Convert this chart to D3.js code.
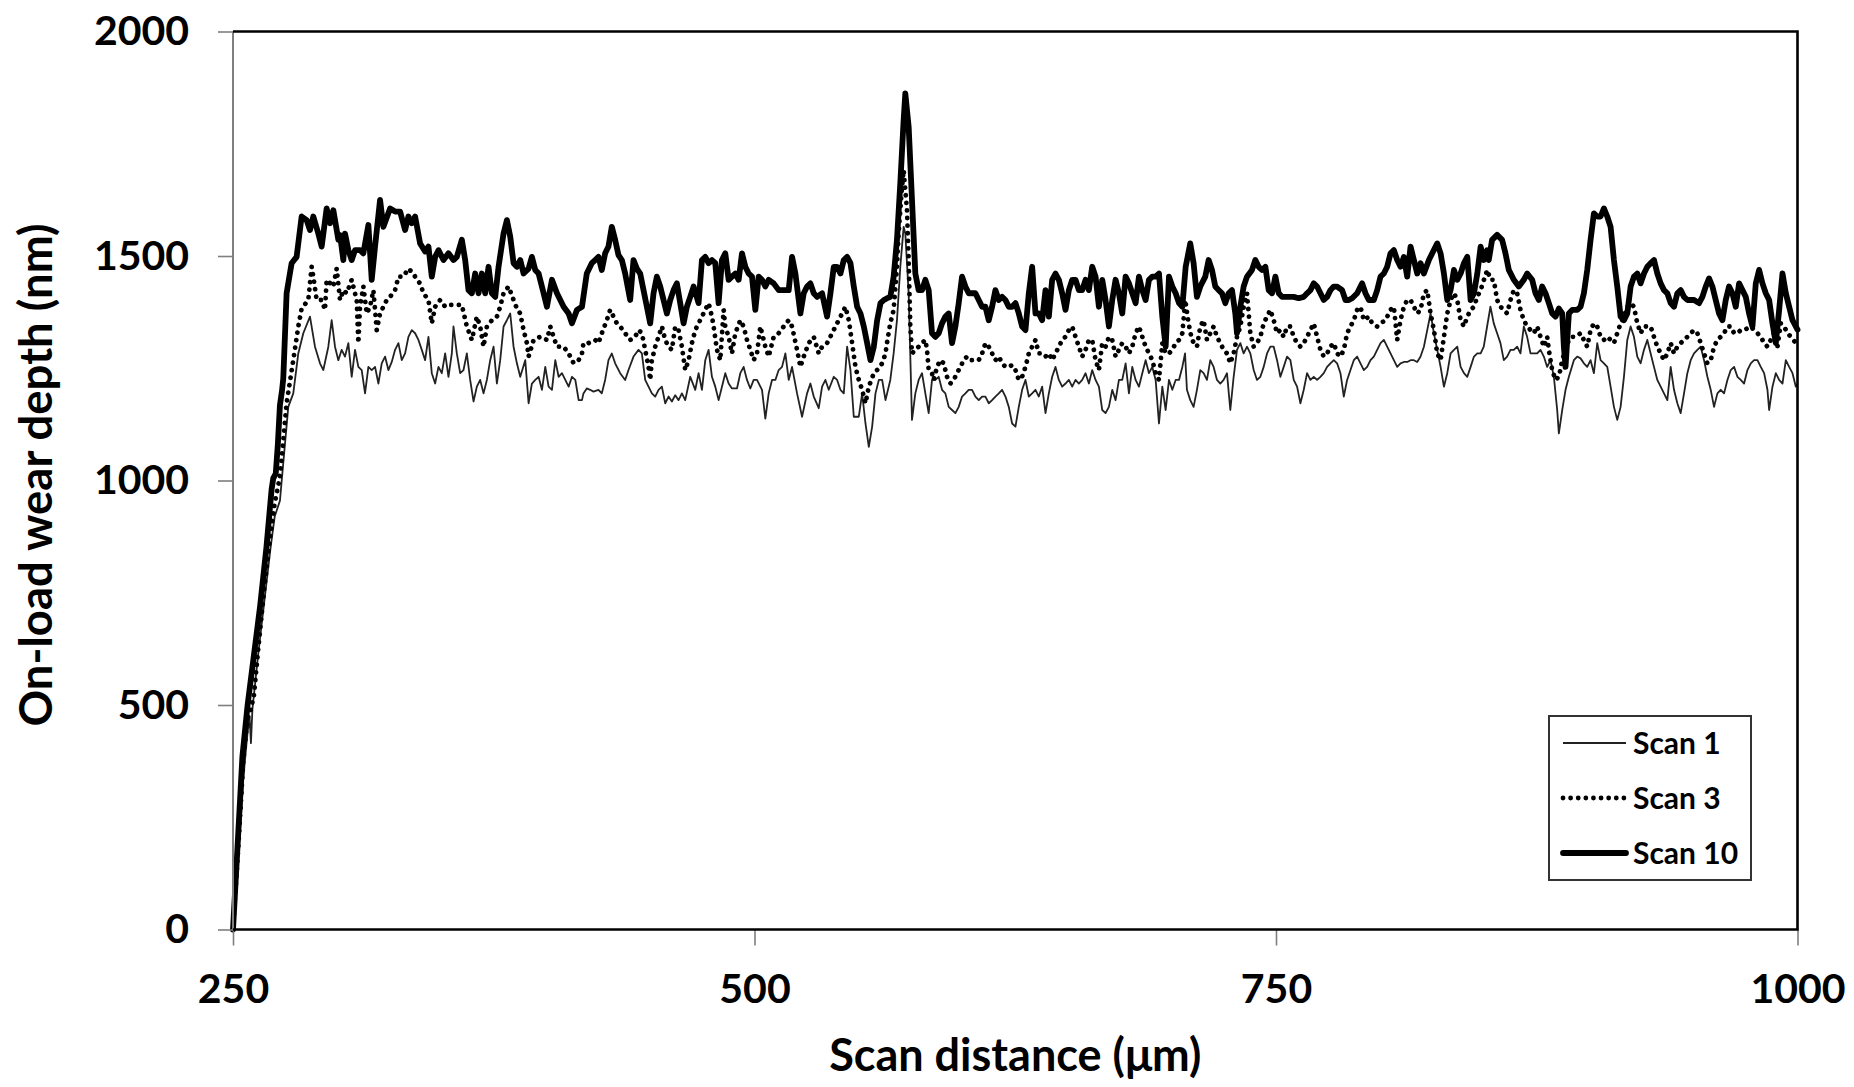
<!DOCTYPE html>
<html>
<head>
<meta charset="utf-8">
<script src="https://cdn.jsdelivr.net/npm/d3@7"></script>
<style>
  html, body { margin: 0; padding: 0; background: #fff; }
  svg { display: block; font-family: Lato, "Open Sans", sans-serif; font-weight: 700; }
</style>
</head>
<body>
<svg id="chart" width="1854" height="1087"></svg>
<script>
// Scan distance (µm) vs on-load wear depth (nm) for three scans
const scan1 = [[250,0],[252.5,160],[255,340],[257,440],[258,470],[258.6,415],[259.3,490],[262,610],[265,730],[268,850],[270,920],[272.5,955],[274.5,1060],[276.5,1164],
[278.9,1194],[281.3,1283],[283.7,1328],[286.9,1365],[289.3,1298],[291.7,1261],[293.3,1246],[295.7,1298],[297.3,1357],[298.9,1298],[300.5,1268],[302.1,1291],[303.7,1276],[305.3,1306],[306.9,1231],[308.5,1291],[310.1,1253],[311.7,1246],[313.3,1194],[314.9,1253],[316.5,1246],[318.1,1253],[319.7,1216],[321.3,1261],[322.9,1276],[324.5,1246],[326.1,1264],[327.7,1291],[329.3,1306],[330.9,1268],[332.5,1283],[334.1,1320],[335.7,1335],[337.3,1328],[338.9,1313],[340.5,1291],[342.1,1268],[343.7,1320],[345.3,1239],[346.9,1216],[348.5,1253],[350.1,1239],[351.7,1283],[353.3,1231],[354.9,1283],[355.7,1343],[357.3,1283],[358.9,1239],[360.5,1246],[362.1,1283],[363.7,1224],[365.3,1176],[366.9,1209],[368.5,1224],[370.1,1194],[371.7,1224],[373.3,1268],[374.9,1298],[376.5,1216],[378.1,1268],[379.7,1343],[381.3,1357],[382.9,1372],[384.5,1298],[386.1,1261],[387.7,1231],[390.1,1268],[391.7,1172],[393.3,1216],[394.9,1224],[396.5,1231],[398.1,1202],[399.7,1253],[401.3,1209],[402.9,1202],[404.5,1268],[406.1,1231],[407.7,1239],[409.3,1224],[410.9,1209],[412.5,1231],[414.1,1224],[415.7,1179],[417.3,1179],
[418.0,1194],[419.6,1205],[421.2,1202],[422.8,1198],[425.2,1202],[426.8,1194],[428.4,1224],[430.0,1268],[431.6,1283],[433.2,1261],[435.6,1239],[438.0,1224],[439.6,1246],[442.0,1276],[444.4,1291],[446.0,1283],[447.6,1224],[449.2,1209],[450.8,1194],[452.4,1187],[454.0,1202],[455.6,1209],[457.2,1172],[458.8,1187],[460.4,1176],[462.0,1190],[463.6,1179],[465.2,1194],[466.8,1179],[469.2,1231],[471.6,1202],[473.2,1239],[474.8,1202],[476.4,1268],[478.0,1291],[479.6,1231],[481.2,1209],[482.8,1179],[484.4,1209],[486.0,1239],[487.6,1216],[489.2,1205],[491.6,1205],[493.2,1239],[494.8,1253],[496.4,1224],[498.0,1205],[499.6,1224],[501.2,1224],[503.6,1202],[505.2,1138],[506.8,1194],[508.4,1224],[510.0,1224],[511.6,1246],[513.2,1253],[514.8,1283],[516.4,1224],[518.0,1253],[520.4,1194],[522.8,1142],[525.2,1194],[526.8,1216],[528.4,1187],[530.8,1161],[532.4,1209],[534.0,1224],[535.6,1202],[538.0,1231],[539.6,1224],[541.2,1202],[542.8,1194],[544.4,1298],[546.0,1246],[547.6,1142],[550.0,1142],[551.6,1194],[553.2,1127],[554.8,1075],[556.4,1120],[558.0,1194],[559.6,1224],[561.2,1224],[562.8,1179],
[565.1,1224],[566.7,1283],[568.3,1357],[569.9,1476],[571.5,1565],[572.3,1550],[573.9,1417],[575.5,1135],[577.1,1194],[578.7,1224],[580.3,1239],[581.9,1194],[583.5,1150],[585.1,1224],[586.7,1224],[588.3,1231],[589.9,1202],[591.5,1194],[593.1,1164],[594.7,1157],[596.3,1150],[597.9,1164],[599.5,1187],[601.1,1194],[602.7,1202],[604.3,1202],[605.9,1187],[607.5,1179],[609.1,1187],[610.7,1187],[612.3,1172],[613.9,1179],[615.5,1187],[617.1,1194],[618.7,1202],[620.3,1187],[621.9,1164],[623.5,1127],[625.1,1120],[626.7,1164],[628.3,1202],[629.9,1224],[631.5,1187],[633.1,1194],[634.7,1202],[636.3,1187],[637.9,1209],[639.5,1150],[641.1,1194],[642.7,1231],[644.3,1253],[645.9,1224],[647.5,1209],[649.1,1216],[650.7,1224],[652.3,1209],[653.9,1224],[655.5,1216],[657.1,1224],[658.7,1239],[660.3,1216],[661.9,1246],[663.5,1224],[665.1,1209],[666.7,1157],[668.3,1150],[669.9,1164],[671.5,1202],[673.1,1179],[674.7,1224],[676.3,1224],[677.9,1261],[679.5,1194],[681.1,1253],[682.7,1224],[684.3,1209],[685.9,1239],[687.5,1268],[689.1,1239],[690.7,1253],[692.3,1224],[693.9,1127],[695.5,1209],[697.1,1157],[698.7,1224],[700.3,1202],[701.9,1224],[703.5,1224],[705.1,1253],[706.4,1283],
[707.3,1202],[708.9,1179],[710.5,1164],[712.1,1202],[713.7,1246],[715.3,1239],[716.9,1224],[718.5,1268],[720.1,1253],[721.7,1224],[723.3,1216],[724.9,1224],[726.5,1239],[728.1,1157],[729.7,1231],[731.3,1291],[732.9,1306],[734.5,1283],[736.1,1298],[737.7,1283],[739.3,1246],[740.9,1224],[742.5,1231],[744.1,1253],[745.7,1283],[747.3,1298],[748.9,1298],[750.5,1268],[752.1,1231],[753.7,1253],[755.3,1276],[756.9,1268],[758.5,1224],[760.1,1209],[761.7,1172],[763.3,1202],[764.9,1239],[766.5,1224],[768.1,1231],[769.7,1224],[771.3,1231],[772.9,1239],[774.5,1253],[776.1,1261],[777.7,1268],[779.3,1261],[780.9,1239],[782.5,1187],[784.1,1224],[785.7,1246],[787.3,1268],[788.9,1276],[790.5,1261],[792.1,1246],[793.7,1253],[795.3,1268],[796.9,1276],[798.5,1291],[800.1,1306],[801.7,1313],[803.3,1298],[804.9,1283],[806.5,1268],[808.1,1253],[809.7,1261],[811.3,1264],[812.9,1264],[814.5,1268],[816.1,1268],[817.7,1264],[819.3,1276],[820.9,1298],[822.5,1335],[824.1,1372],[825.7,1328],[827.3,1291],[828.9,1253],[830.5,1209],[832.1,1239],[833.7,1283],[835.3,1291],[836.9,1298],[838.5,1253],[840.1,1239],[841.7,1231],[843.3,1253],[844.9,1276],[846.5,1283],[848.1,1283],
[849.6,1298],[851.2,1343],[852.8,1387],[854.4,1350],[856.0,1328],[857.6,1306],[859.2,1268],[860.8,1276],[862.4,1291],[864.0,1291],[865.6,1298],[867.2,1283],[868.8,1343],[870.4,1320],[872.0,1283],[873.6,1283],[875.2,1283],[876.8,1291],[878.4,1276],[880.0,1253],[881.6,1268],[883.2,1231],[884.8,1157],[885.6,1105],[887.2,1157],[888.8,1202],[890.4,1231],[892.8,1268],[894.4,1276],[896.0,1272],[897.6,1261],[899.2,1253],[900.8,1268],[902.4,1239],[904.0,1306],[905.6,1268],[907.2,1261],[908.8,1253],[910.4,1209],[912.0,1164],[913.6,1135],[915.2,1164],[916.8,1231],[918.4,1313],[920.0,1343],[921.6,1320],[923.2,1276],[924.8,1261],[926.4,1291],[928.0,1313],[929.6,1283],[931.2,1253],[932.8,1224],[934.4,1209],[936.0,1194],[937.6,1179],[939.2,1253],[940.8,1202],[942.4,1172],[944.0,1150],[945.6,1194],[947.2,1239],[948.8,1268],[950.4,1283],[952.0,1291],[953.6,1298],[955.2,1268],[956.8,1231],[958.4,1202],[960.0,1164],[961.6,1194],[963.2,1202],[964.8,1194],[966.4,1224],[968.0,1246],[969.6,1253],[971.2,1231],[972.8,1224],[974.4,1216],[976.0,1246],[977.6,1261],[979.2,1268],[980.8,1268],[982.4,1253],[984.0,1239],[985.6,1202],[986.4,1157],[988.0,1209],[989.6,1239],[991.2,1224],[992.8,1216],[994.4,1268],[996.0,1253],[997.6,1239],[999.2,1209],[1000,1215]];

const scan3 = [[250,0],[252.5,180],[255,380],[257,470],[258,480],[260,520],[262,620],[265,760],[268,880],[270,950],[272.5,1008],[275.7,1172],[278.9,1268],[281.3,1343],[282.9,1383],
[286.1,1402],[287.7,1476],[288.5,1454],[290.1,1402],[292.5,1402],[294.1,1380],[294.9,1447],[298.1,1432],[299.7,1472],[301.3,1402],[302.9,1424],[304.5,1417],[306.9,1447],[309.3,1402],[310.1,1306],[310.9,1387],[312.5,1432],[314.1,1372],[315.7,1387],[317.3,1424],[318.9,1335],[320.5,1372],[322.1,1387],[323.7,1402],[325.3,1409],[327.7,1424],[329.3,1454],[331.7,1454],[334.1,1472],[336.5,1461],[338.1,1447],[339.7,1439],[341.3,1417],[343.7,1402],[345.3,1350],[346.9,1387],[349.3,1402],[351.7,1387],[354.1,1391],[357.3,1391],[359.7,1391],[362.1,1343],[364.5,1313],[366.9,1365],[368.5,1343],[370.1,1298],[371.7,1343],[374.1,1357],[376.5,1365],[378.1,1387],[379.7,1417],[382.1,1432],[384.5,1402],[386.1,1383],[387.7,1372],[389.3,1335],[390.9,1306],[391.7,1276],[394.1,1313],[397.3,1320],[400.5,1313],[402.1,1343],[403.7,1320],[405.3,1298],[408.5,1298],[410.9,1283],[413.3,1261],[415.7,1268],[417.3,1283],
[418.0,1306],[420.4,1306],[423.6,1313],[425.2,1306],[426.8,1328],[429.2,1357],[430.8,1380],[432.4,1365],[434.0,1350],[435.6,1343],[438.0,1328],[440.4,1313],[442.8,1320],[444.4,1335],[446.0,1328],[447.6,1291],[449.2,1253],[450.0,1224],[450.8,1268],[452.4,1298],[454.0,1320],[455.6,1343],[457.2,1313],[458.8,1298],[460.4,1291],[462.0,1343],[463.6,1335],[465.2,1298],[466.8,1246],[468.4,1268],[470.0,1306],[471.6,1335],[473.2,1350],[474.8,1365],[476.4,1380],[478.0,1395],[479.6,1365],[480.4,1343],[482.0,1291],[483.6,1268],[485.2,1380],[486.0,1343],[487.6,1320],[489.2,1283],[490.8,1328],[493.2,1357],[494.8,1343],[496.4,1313],[498.0,1291],[499.6,1268],[501.2,1283],[502.8,1343],[505.2,1298],[506.8,1276],[509.2,1320],[511.6,1328],[514.0,1343],[516.4,1357],[518.0,1343],[520.4,1291],[522.0,1253],[523.6,1276],[526.0,1306],[528.4,1320],[530.8,1283],[532.4,1298],[534.8,1306],[537.2,1328],[539.6,1350],[542.0,1372],[543.6,1387],[545.2,1357],[546.8,1306],[548.4,1253],[550.0,1224],[551.6,1202],[553.2,1172],[554.8,1209],[557.2,1239],[558.8,1246],[561.2,1261],[562.8,1283],
[563.5,1306],[565.1,1350],[566.7,1380],[568.3,1476],[569.1,1550],[570.7,1654],[571.5,1691],[573.1,1602],[573.9,1491],[574.7,1343],[575.5,1283],[577.1,1291],[578.7,1298],[580.3,1306],[581.9,1313],[582.7,1291],[583.5,1246],[585.1,1239],[585.9,1224],[587.5,1253],[589.1,1268],[590.7,1261],[592.3,1231],[593.9,1216],[595.5,1224],[597.1,1239],[598.7,1253],[600.3,1268],[601.9,1276],[603.5,1268],[605.9,1268],[607.5,1268],[609.1,1283],[610.7,1306],[612.3,1298],[613.9,1283],[615.5,1268],[617.1,1276],[618.7,1261],[620.3,1253],[621.9,1253],[623.5,1257],[625.1,1246],[626.7,1224],[628.3,1231],[629.9,1253],[631.5,1283],[633.1,1298],[634.7,1313],[636.3,1283],[637.9,1283],[639.5,1276],[641.1,1283],[642.7,1268],[644.3,1283],[645.9,1298],[647.5,1313],[649.1,1320],[650.7,1335],[652.3,1343],[653.9,1320],[655.5,1298],[657.1,1276],[658.7,1291],[660.3,1313],[661.9,1313],[663.5,1268],[665.1,1246],[666.7,1306],[668.3,1298],[669.9,1320],[671.5,1313],[673.1,1276],[674.7,1291],[676.3,1306],[677.9,1298],[679.5,1283],[681.1,1298],[682.7,1328],[684.3,1343],[685.9,1320],[687.5,1298],[689.1,1283],[690.7,1268],[692.3,1239],[693.9,1224],[695.5,1306],[697.1,1283],[698.7,1283],[700.3,1291],[701.9,1306],[703.5,1313],[705.1,1328],
[706.5,1402],[708.1,1350],[709.7,1313],[712.1,1298],[713.7,1343],[715.3,1357],[716.9,1313],[718.5,1328],[720.1,1343],[721.7,1320],[723.3,1306],[724.9,1291],[726.5,1283],[728.1,1261],[729.7,1283],[731.3,1320],[732.9,1343],[734.5,1387],[736.1,1417],[737.7,1328],[739.3,1298],[740.9,1306],[742.5,1320],[744.1,1350],[745.7,1365],[747.3,1380],[748.9,1357],[750.5,1328],[752.1,1335],[753.7,1320],[755.3,1343],[756.9,1343],[758.5,1320],[760.1,1306],[761.7,1298],[763.3,1306],[764.9,1320],[766.5,1335],[768.1,1350],[769.7,1320],[771.3,1291],[772.9,1276],[774.5,1283],[776.1,1298],[777.7,1306],[779.3,1283],[780.9,1276],[782.5,1291],[784.1,1328],[785.7,1343],[787.3,1357],[788.9,1380],[790.5,1387],[792.1,1357],[794.5,1365],[796.1,1350],[798.5,1343],[800.1,1350],[802.5,1357],[804.9,1380],[806.5,1387],[808.1,1313],[809.7,1357],[811.3,1387],[812.9,1402],[814.5,1402],[816.1,1387],[817.7,1372],[819.3,1380],[820.9,1417],[822.5,1424],[824.1,1372],[825.7,1335],[827.3,1283],[828.9,1268],[830.5,1320],[832.1,1372],[833.7,1402],[835.3,1417],[836.9,1402],[838.5,1357],[840.1,1343],[841.7,1365],[843.3,1380],[844.9,1387],[846.5,1409],[848.1,1424],[849.7,1447],[851.3,1469],
[852.8,1447],[854.4,1447],[856.0,1402],[857.6,1387],[859.2,1380],[860.8,1372],[862.4,1402],[864.0,1424],[865.6,1417],[867.2,1380],[868.8,1357],[870.4,1343],[872.0,1335],[873.6,1328],[875.2,1343],[876.8,1320],[878.4,1298],[880.0,1320],[880.8,1291],[881.6,1268],[882.4,1246],[884.0,1224],[885.6,1231],[887.2,1268],[888.8,1291],[890.4,1313],[892.0,1320],[893.6,1320],[896.0,1328],[897.6,1313],[899.2,1298],[900.8,1335],[902.4,1350],[904.0,1343],[905.6,1320],[907.2,1313],[908.8,1320],[910.4,1313],[912.0,1306],[913.6,1328],[915.2,1350],[916.8,1365],[918.4,1387],[920.0,1395],[921.6,1387],[923.2,1350],[924.8,1328],[926.4,1343],[928.0,1343],[929.6,1343],[931.2,1320],[932.8,1298],[934.4,1283],[936.0,1268],[937.6,1283],[939.2,1306],[940.8,1283],[942.4,1298],[944.0,1306],[945.6,1313],[947.2,1320],[948.8,1328],[950.4,1335],[952.0,1328],[953.6,1306],[955.2,1283],[956.8,1261],[958.4,1268],[960.0,1298],[961.6,1313],[963.2,1320],[964.8,1328],[966.4,1343],[968.0,1343],[969.6,1328],[971.2,1328],[972.8,1335],[974.4,1335],[976.0,1339],[977.6,1343],[979.2,1335],[980.8,1328],[982.4,1320],[984.0,1306],[985.6,1298],[987.2,1313],[988.8,1328],[990.4,1298],[992.0,1350],[993.6,1343],[995.2,1328],[996.8,1320],[999.2,1306],[1000,1302]];

const scan10 = [[250,0],[252,170],[254.5,385],[257,500],[260,610],[263,720],[266,850],[268.5,980],[269.3,1005],[270.5,1015],[271.5,1080],[272.5,1168],[273.5,1200],[274.1,1227],[275.7,1417],[278.1,1484],[280.5,1498],[282.9,1588],
[285.3,1580],[286.9,1558],[288.5,1588],[290.9,1550],[292.5,1521],[294.9,1606],[296.5,1573],[298.1,1602],[300.5,1536],[301.3,1547],[302.9,1491],[303.7,1550],[305.3,1513],[306.9,1491],[308.5,1513],[310.9,1513],[312.5,1506],[314.9,1569],[316.5,1447],[318.1,1521],[320.5,1625],[322.1,1565],[325.3,1606],[327.7,1599],[330.1,1599],[332.5,1558],[334.1,1588],[335.7,1573],[337.3,1588],[339.7,1528],[342.1,1510],[343.7,1521],[345.3,1454],[346.9,1498],[348.5,1513],[350.9,1491],[353.3,1506],[355.7,1491],[357.3,1498],[359.7,1536],[361.3,1491],[362.9,1424],[364.5,1417],[366.1,1461],[367.7,1417],[369.3,1461],[370.9,1417],[372.5,1476],[374.1,1417],[375.7,1409],[377.3,1476],[379.7,1550],[381.3,1580],[382.9,1543],[384.5,1484],[386.1,1476],[387.7,1491],[389.3,1461],[391.7,1472],[393.3,1498],[394.9,1469],[396.5,1461],[398.9,1417],[400.5,1387],[402.9,1447],[405.3,1417],[408.5,1387],[410.9,1372],[412.5,1350],[414.9,1380],[417.3,1387],
[419.6,1461],[422.0,1484],[423.6,1491],[425.2,1498],[426.8,1469],[428.4,1506],[430.0,1521],[431.6,1565],[433.2,1536],[434.8,1502],[436.4,1491],[438.0,1461],[440.4,1402],[442.0,1491],[443.6,1472],[445.2,1461],[446.8,1424],[448.4,1387],[450.0,1350],[451.6,1417],[453.2,1454],[454.8,1432],[456.4,1402],[458.0,1372],[459.6,1402],[461.2,1424],[462.8,1439],[464.4,1395],[466.0,1350],[467.6,1387],[469.2,1409],[470.8,1432],[473.2,1395],[474.8,1491],[476.4,1498],[478.0,1484],[479.6,1491],[481.2,1484],[482.8,1395],[484.4,1491],[486.0,1506],[487.6,1447],[489.2,1454],[490.8,1461],[492.4,1447],[494.0,1506],[495.6,1476],[497.2,1461],[498.8,1454],[500.4,1380],[502.0,1454],[503.6,1447],[505.2,1432],[506.8,1447],[509.2,1439],[511.6,1424],[514.0,1424],[516.4,1424],[518.0,1498],[519.6,1461],[522.0,1372],[523.6,1417],[525.2,1432],[526.8,1439],[528.4,1417],[530.0,1409],[532.4,1417],[534.8,1365],[536.4,1417],[538.0,1476],[539.6,1476],[541.2,1461],[542.8,1491],[544.4,1498],[546.0,1484],[547.6,1432],[549.2,1387],[550.8,1372],[552.4,1343],[554.0,1306],[555.6,1268],[557.2,1298],[558.8,1357],[560.4,1395],[562.0,1402],[563.6,1406],
[565.1,1409],[566.7,1454],[568.3,1536],[569.9,1662],[571.5,1803],[572.3,1862],[573.9,1788],[575.5,1625],[577.1,1461],[578.7,1424],[580.3,1424],[581.9,1447],[583.5,1424],[585.1,1328],[586.7,1320],[588.3,1328],[589.9,1350],[591.5,1365],[593.1,1372],[594.7,1306],[596.3,1343],[597.9,1395],[599.5,1454],[601.1,1432],[602.7,1417],[604.3,1417],[605.9,1417],[607.5,1402],[609.1,1387],[610.7,1387],[612.3,1357],[613.9,1387],[615.5,1424],[617.1,1402],[618.7,1409],[620.3,1402],[621.9,1387],[623.5,1387],[625.1,1395],[626.7,1372],[628.3,1343],[629.9,1335],[631.5,1417],[633.1,1476],[634.7,1372],[636.3,1372],[637.9,1357],[639.5,1424],[641.1,1365],[642.7,1447],[644.3,1461],[645.9,1447],[647.5,1417],[649.1,1380],[650.7,1424],[652.3,1447],[653.9,1447],[655.5,1424],[657.1,1424],[658.7,1447],[660.3,1424],[661.9,1476],[663.5,1454],[665.1,1387],[666.7,1447],[668.3,1402],[669.9,1343],[671.5,1402],[673.1,1447],[674.7,1417],[676.3,1372],[677.9,1454],[679.5,1439],[681.1,1417],[682.7,1395],[684.3,1454],[685.9,1424],[687.5,1402],[689.1,1447],[690.7,1454],[692.3,1454],[693.9,1461],[695.5,1365],[697.1,1298],[698.7,1454],[700.3,1432],[701.9,1417],[703.5,1395],[705.1,1387],[706.7,1476],[708.9,1528],
[710.5,1484],[712.1,1409],[713.7,1432],[716.1,1454],[717.7,1491],[719.3,1469],[720.9,1432],[722.5,1424],[724.1,1417],[725.7,1395],[727.3,1417],[728.9,1424],[730.5,1372],[731.3,1328],[732.9,1387],[734.5,1432],[736.1,1454],[738.5,1469],[740.1,1491],[741.7,1476],[743.3,1469],[744.9,1476],[746.5,1424],[748.1,1417],[749.7,1454],[751.3,1417],[752.9,1409],[756.1,1409],[758.5,1409],[760.9,1406],[763.3,1409],[764.9,1417],[766.5,1424],[768.1,1439],[769.7,1432],[771.3,1417],[772.9,1402],[774.5,1409],[776.1,1424],[777.7,1432],[779.3,1432],[781.7,1424],[783.3,1402],[784.9,1402],[786.5,1406],[788.9,1417],[791.3,1439],[792.9,1417],[794.5,1402],[796.9,1402],[798.5,1424],[800.1,1454],[801.7,1461],[803.3,1476],[804.9,1506],[806.5,1513],[808.1,1491],[809.7,1476],[811.3,1498],[812.9,1454],[814.5,1521],[816.1,1491],[817.7,1461],[819.3,1484],[820.9,1461],[823.3,1491],[824.9,1506],[827.3,1528],[828.9,1506],[830.5,1461],[832.1,1402],[833.7,1424],[835.3,1469],[836.9,1447],[838.5,1461],[840.1,1484],[841.7,1498],[843.3,1402],[844.9,1417],[846.5,1461],[848.1,1521],
[849.6,1491],[851.2,1513],[852.0,1491],[853.6,1536],[856.0,1547],[858.4,1536],[860.0,1506],[861.6,1469],[864.0,1447],[866.4,1432],[868.8,1447],[870.4,1461],[872.8,1447],[874.4,1417],[876.0,1402],[877.6,1432],[879.2,1417],[880.8,1395],[882.4,1372],[884.0,1365],[885.6,1383],[887.2,1372],[888.0,1298],[888.8,1253],[890.4,1372],[892.0,1380],[894.4,1380],[896.0,1387],[897.6,1417],[899.2,1469],[900.8,1536],[902.4,1595],[904.0,1588],[905.6,1588],[907.2,1606],[908.8,1588],[910.4,1565],[912.0,1491],[913.6,1432],[915.2,1365],[916.8,1357],[918.4,1372],[920.0,1432],[921.6,1454],[923.2,1461],[924.8,1439],[926.4,1461],[928.0,1476],[929.6,1484],[931.2,1491],[932.8,1461],[934.4,1439],[936.0,1424],[937.6,1417],[939.2,1395],[940.8,1387],[942.4,1417],[944.0,1424],[945.6,1409],[947.2,1402],[950.4,1402],[952.8,1395],[954.4,1409],[956.0,1432],[957.6,1450],[959.2,1432],[960.8,1402],[962.4,1372],[964.0,1357],[965.6,1402],[967.2,1432],[968.8,1417],[970.4,1387],[972.0,1439],[973.6,1424],[975.2,1409],[976.8,1372],[978.4,1343],[980.0,1439],[981.6,1469],[983.2,1439],[984.8,1417],[986.4,1402],[988.0,1350],[989.6,1306],[991.2,1380],[992.8,1461],[994.4,1417],[996.0,1387],[997.6,1357],[999.2,1343],[1000,1336]];

const xTicks = [250, 500, 750, 1000];
const yTicks = [0, 500, 1000, 1500, 2000];
const seriesNames = ["Scan 1", "Scan 3", "Scan 10"];
const xTitle = "Scan distance (\u03bcm)";
const yTitle = "On-load wear depth (nm)";

const W = 1854, H = 1087;
const margin = { left: 233, right: W - 1797.5, top: 31.5, bottom: H - 929.5 };
const innerW = W - margin.left - margin.right;
const innerH = H - margin.top - margin.bottom;

const svg = d3.select("#chart");
svg.append("rect").attr("width", W).attr("height", H).attr("fill", "#fff");

const x = d3.scaleLinear().domain([250, 1000]).range([0, innerW]);
const y = d3.scaleLinear().domain([0, 2000]).range([innerH, 0]);

const g = svg.append("g").attr("transform", `translate(${margin.left},${margin.top})`);

// Series line styles: thin solid, round-dot, heavy solid
const styles = [
  { stroke: "#222", width: 1.8, dash: null, cap: "butt" },
  { stroke: "#000", width: 4.8, dash: "0.01 7.6", cap: "round" },
  { stroke: "#000", width: 5.8, dash: null, cap: "round" }
];
const seriesData = [scan1, scan3, scan10];

const line = d3.line().x(d => x(d[0])).y(d => y(d[1]));

seriesData.forEach((data, i) => {
  const s = styles[i];
  g.append("path")
    .datum(data)
    .attr("d", line)
    .attr("fill", "none")
    .attr("stroke", s.stroke)
    .attr("stroke-width", s.width)
    .attr("stroke-linejoin", "round")
    .attr("stroke-linecap", s.cap)
    .attr("stroke-dasharray", s.dash);
});

// Axes
const fmt = d3.format("d");
const yAxis = d3.axisLeft(y).tickValues(yTicks).tickFormat(fmt).tickSize(15).tickPadding(29);
const xAxis = d3.axisBottom(x).tickValues(xTicks).tickFormat(fmt).tickSize(16).tickPadding(28);

const gy = g.append("g").call(yAxis);
const gx = g.append("g").attr("transform", `translate(0,${innerH})`).call(xAxis);

[gx, gy].forEach(a => {
  a.select(".domain").remove();
  a.selectAll(".tick line").attr("stroke", "#7f7f7f").attr("stroke-width", 1.6);
  a.selectAll(".tick text")
    .attr("fill", "#000")
    .style("font-size", "41px")
    .style("font-weight", 700)
    .style("font-family", "Lato, sans-serif");
});

// Frame
g.append("line").attr("x1", 0).attr("x2", 0).attr("y1", 0).attr("y2", innerH)
  .attr("stroke", "#7f7f7f").attr("stroke-width", 2);
g.append("path")
  .attr("d", `M0,0H${innerW}V${innerH}H0`)
  .attr("fill", "none").attr("stroke", "#000").attr("stroke-width", 2.6);

// Axis titles
svg.append("text")
  .attr("x", margin.left + innerW / 2)
  .attr("y", 1071)
  .attr("text-anchor", "middle")
  .style("font-size", "45px")
  .text(xTitle);

svg.append("text")
  .attr("transform", `translate(52,${475}) rotate(-90)`)
  .attr("text-anchor", "middle")
  .style("font-size", "45.5px")
  .text(yTitle);

// Legend
const legend = svg.append("g").attr("transform", "translate(1549,716)");
legend.append("rect")
  .attr("width", 202).attr("height", 164)
  .attr("fill", "#fff").attr("stroke", "#333").attr("stroke-width", 2);
const rowY = [27, 82, 137];
seriesNames.forEach((name, i) => {
  const s = styles[i];
  legend.append("line")
    .attr("x1", 14).attr("x2", 77)
    .attr("y1", rowY[i]).attr("y2", rowY[i])
    .attr("stroke", s.stroke)
    .attr("stroke-width", s.width)
    .attr("stroke-linecap", s.cap)
    .attr("stroke-dasharray", s.dash);
  legend.append("text")
    .attr("x", 84)
    .attr("y", rowY[i] + 11)
    .style("font-size", "30px")
    .text(name);
});
</script>
</body>
</html>
